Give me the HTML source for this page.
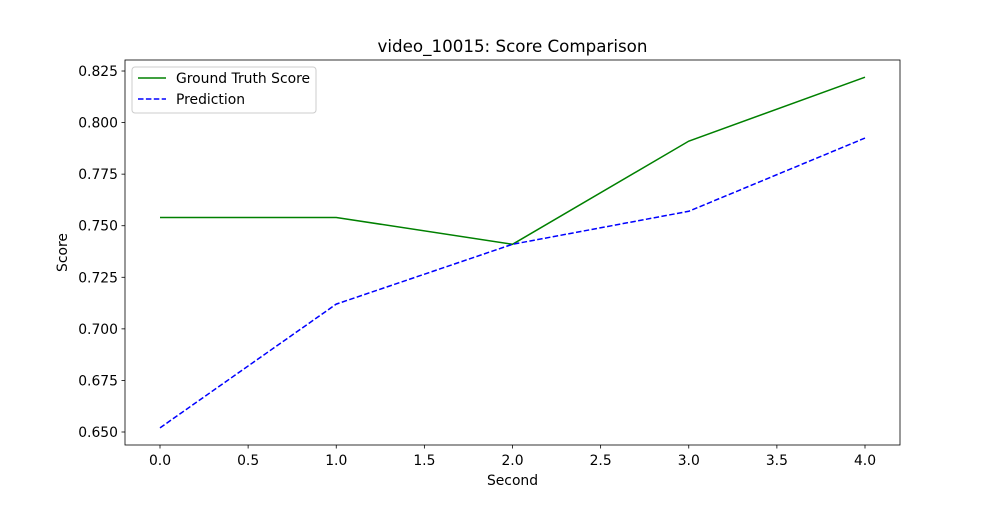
<!DOCTYPE html>
<html><head><meta charset="utf-8"><style>
body{margin:0;background:#fff;font-family:"Liberation Sans","DejaVu Sans",sans-serif;}
svg text{font-family:"DejaVu Sans","Liberation Sans",sans-serif;}
</style></head><body>
<svg id="chart" width="1000" height="500" xmlns="http://www.w3.org/2000/svg"></svg>
<script>
const seconds=[0,1,2,3,4];
const groundTruth=[0.754,0.754,0.741,0.791,0.822];
const prediction=[0.652,0.712,0.741,0.757,0.7925];
const xTicks=[0,0.5,1,1.5,2,2.5,3,3.5,4];
const xTickLabels=["0.0","0.5","1.0","1.5","2.0","2.5","3.0","3.5","4.0"];
const yTicks=[0.65,0.675,0.7,0.725,0.75,0.775,0.8,0.825];
const yTickLabels=["0.650","0.675","0.700","0.725","0.750","0.775","0.800","0.825"];

const L=125,R=900,T=60,B=445;
const x=v=>160+v*176.25;
const y=v=>432-(v-0.65)/0.025*51.57;
const svg=document.getElementById('chart');
const NS="http://www.w3.org/2000/svg";
function mk(tag,attrs,parent){const e=document.createElementNS(NS,tag);for(const k in attrs)e.setAttribute(k,attrs[k]);(parent||svg).appendChild(e);return e;}

const frame=mk('rect',{x:L,y:T,width:R-L,height:B-T,fill:'none',stroke:'#000','stroke-width':0.8});



xTicks.forEach((v,i)=>{
  const g=mk('g',{});
  
  
  mk('line',{x1:x(v),x2:x(v),y1:B,y2:B+3.5,stroke:'#000','stroke-width':0.8},g);
  const t=mk('text',{x:x(v),y:B+20,'font-size':13.9,'text-anchor':'middle'},g);t.textContent=xTickLabels[i];
});
yTicks.forEach((v,i)=>{
  const g=mk('g',{});
  
  
  mk('line',{x1:L-3.5,x2:L,y1:y(v),y2:y(v),stroke:'#000','stroke-width':0.8},g);
  const t=mk('text',{x:L-7,y:y(v)+5,'font-size':13.9,'text-anchor':'end'},g);t.textContent=yTickLabels[i];
});

function line(data,color,dash,name){
  const p=mk('polyline',{points:data.map((v,i)=>x(seconds[i])+','+y(v)).join(' '),fill:'none',stroke:color,'stroke-width':1.5});
  if(dash)p.setAttribute('stroke-dasharray',dash);
  
  
}
line(groundTruth,'#008000',null,'ground-truth-line');
line(prediction,'#0000ff','5.5,2.4','prediction-line');

const title=mk('text',{x:512.5,y:52,'font-size':16.7,'text-anchor':'middle'});title.textContent='video_10015: Score Comparison';

const xl=mk('text',{x:512.5,y:485,'font-size':13.9,'text-anchor':'middle'});xl.textContent='Second';

const yl=mk('text',{x:67,y:252.5,'font-size':13.9,'text-anchor':'middle',transform:'rotate(-90 67 252.5)'});yl.textContent='Score';


const lg=mk('g',{});


mk('rect',{x:132,y:67,width:184,height:46,rx:3,fill:'#fff',stroke:'#ccc','stroke-width':1},lg);
const e1=mk('g',{},lg);


mk('line',{x1:138,x2:166,y1:78,y2:78,stroke:'#008000','stroke-width':1.5},e1);
const t1=mk('text',{x:176,y:83,'font-size':13.9},e1);t1.textContent='Ground Truth Score';
const e2=mk('g',{},lg);


mk('line',{x1:138,x2:166,y1:99,y2:99,stroke:'#0000ff','stroke-width':1.5,'stroke-dasharray':'5.5,2.4'},e2);
const t2=mk('text',{x:176,y:104,'font-size':13.9},e2);t2.textContent='Prediction';
</script>
</body></html>
